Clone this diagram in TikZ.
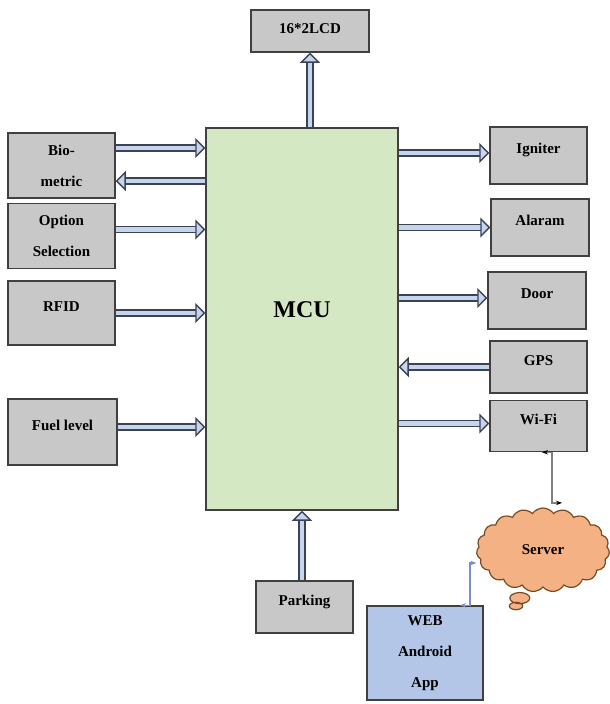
\documentclass[tikz,border=0pt]{standalone}
\usepackage{fontspec}
\setmainfont{Liberation Serif}
\usetikzlibrary{positioning}
\usetikzlibrary{arrows.meta}
\usetikzlibrary{shapes.callouts}

\definecolor{boxgray}{RGB}{200,200,200}
\definecolor{mcugreen}{RGB}{213,232,196}
\definecolor{appblue}{RGB}{180,198,231}
\definecolor{cloudorange}{RGB}{244,177,131}
\definecolor{cloudedge}{RGB}{120,75,35}
\definecolor{arrowfill}{RGB}{198,212,236}
\definecolor{arrowedge}{RGB}{60,66,86}
\definecolor{edgedark}{RGB}{64,64,64}
\definecolor{weblink}{RGB}{120,145,200}

\tikzset{
  blk/.style={draw=edgedark, fill=boxgray, line width=1.5pt, inner sep=2pt,
    align=center, font=\fontsize{15}{31}\selectfont\bfseries},
  lift/.style={text height=10pt, text depth=14pt},
  bus/.style={draw=arrowedge, double=arrowfill, double distance=4.5pt,
    line width=1.3pt, -{Triangle[open, length=10pt, width=20pt, fill=arrowfill, line width=1.3pt]}},
  link/.style={draw=gray, line width=1.2pt, {Stealth[length=6pt, color=black]}-{Stealth[length=6pt, color=black]}},
}

\begin{document}
\begin{tikzpicture}[x=1pt, y=-1pt]
    \useasboundingbox (0,0) rectangle (610,704);

    \node[blk, fill=mcugreen, minimum width=192pt, minimum height=382pt,
        font=\fontsize{24}{28}\selectfont\bfseries, text depth=18pt] (mcu) at (302,319) {MCU};
    \node[blk, minimum width=118pt, minimum height=42pt, text height=10pt, text depth=6pt] (lcd) at (310,31) {16*2LCD};

    \node[blk, minimum width=107pt, minimum height=65pt] (bio) at (61.5,165.5) {Bio-\\metric};
    \node[blk, minimum width=107pt, minimum height=65pt, below=4pt of bio] (opt) {Option\\Selection};
    \node[blk, lift, minimum width=107pt, minimum height=64pt] (rfid) at (61.5,313) {RFID};
    \node[blk, lift, minimum width=109pt, minimum height=66pt] (fuel) at (62.5,432) {Fuel level};

    \node[blk, lift, minimum width=97pt, minimum height=57pt] (ign) at (538.5,155.5) {Igniter};
    \node[blk, lift, minimum width=98pt, minimum height=57pt] (alm) at (540,227.5) {Alaram};
    \node[blk, lift, minimum width=98pt, minimum height=57pt] (door) at (537,300.5) {Door};
    \node[blk, lift, minimum width=97pt, minimum height=52pt] (gps) at (538.5,367) {GPS};
    \node[blk, lift, minimum width=97pt, minimum height=51pt, below=6pt of gps] (wifi) {Wi-Fi};

    \node[blk, lift, minimum width=97pt, minimum height=52pt] (park) at (304.5,607) {Parking};
    \node[blk, fill=appblue, minimum width=116pt, minimum height=94pt] (web) at (425,653) {WEB\\Android\\App};
    \node[cloud callout, draw=cloudedge, fill=cloudorange, line width=1.2pt, cloud puffs=19,
        cloud puff arc=110, aspect=1.6, minimum width=133pt, minimum height=84pt,
        callout absolute pointer={(516,606)},
        font=\fontsize{15}{18}\selectfont\bfseries] (server) at (543,550) {Server};

    % buses to and from the MCU
    \draw[bus] ([yshift=17.5pt]bio.east) -- ([yshift=17.5pt]bio.east -| mcu.west);
    \draw[bus] ([yshift=-15.5pt]bio.east -| mcu.west) -- ([yshift=-15.5pt]bio.east);
    \draw[bus] ([yshift=6.5pt]opt.east) -- ([yshift=6.5pt]opt.east -| mcu.west);
    \draw[bus] (rfid.east) -- (rfid.east -| mcu.west);
    \draw[bus] ([yshift=5pt]fuel.east) -- ([yshift=5pt]fuel.east -| mcu.west);
    \draw[bus] ([yshift=2.5pt]ign.west -| mcu.east) -- ([yshift=2.5pt]ign.west);
    \draw[bus] (alm.west -| mcu.east) -- (alm.west);
    \draw[bus] ([yshift=2.5pt]door.west -| mcu.east) -- ([yshift=2.5pt]door.west);
    \draw[bus] (gps.west) -- (gps.west -| mcu.east);
    \draw[bus] ([yshift=2.5pt]wifi.west -| mcu.east) -- ([yshift=2.5pt]wifi.west);
    \draw[bus] (mcu.north -| lcd.south) -- (lcd.south);
    \draw[bus] ([xshift=-2.5pt]park.north) -- ([xshift=-2.5pt]park.north |- mcu.south);

    % server links
    \draw[link] ([xshift=3.5pt]wifi.south) -- ++(10,0) |- ([xshift=19pt,yshift=4.5pt]server.north);
    \draw[link, draw=weblink, {Stealth[length=6pt, color=weblink]}-{Stealth[length=6pt, color=weblink]}]
        ([xshift=35pt]web.north) -- ++(10,0) |- ([yshift=-13pt]server.west);
\end{tikzpicture}
\end{document}
